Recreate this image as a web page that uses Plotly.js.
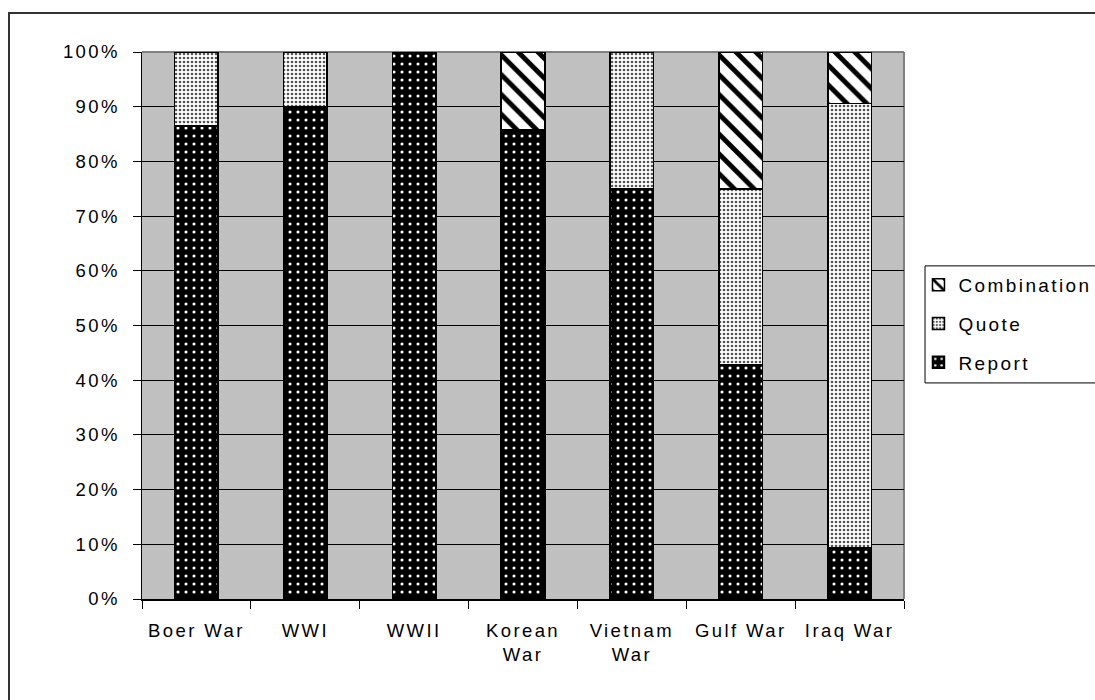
<!DOCTYPE html>
<html>
<head>
<meta charset="utf-8">
<script src="https://cdn.plot.ly/plotly-3.0.1.min.js"></script>
<style>
  html, body { margin: 0; padding: 0; background: #fff; overflow: hidden; }
  #wrap { position: relative; width: 1095px; height: 700px; overflow: hidden; }
  #chart { width: 1095px; height: 700px; }
  #frame { position: absolute; left: 8px; top: 12px; width: 1300px; height: 900px;
           border-left: 2px solid #333; border-top: 2px solid #333; pointer-events: none; }
  svg text { letter-spacing: 2.4px; }
</style>
</head>
<body>
<div id="wrap">
  <div id="chart"></div>
  <div id="frame"></div>
</div>
<script>
const categories = ["Boer War", "WWI", "WWII", "Korean<br>War", "Vietnam<br>War", "Gulf War", "Iraq War"];
const reportValues = [0.865, 0.90, 1.00, 0.857, 0.75, 0.429, 0.094];
const quoteValues = [0.135, 0.10, 0.00, 0.00, 0.25, 0.321, 0.812];
const combinationValues = [0.00, 0.00, 0.00, 0.143, 0.00, 0.25, 0.094];

const outline = {color: "#000", width: 1.5};
const traces = [
  {
    type: "bar", name: "Report", x: categories, y: reportValues, width: 0.4,
    legendgroup: "r", legendrank: 3,
    marker: {color: "#000", line: outline,
      pattern: {shape: ".", bgcolor: "#000", fgcolor: "#fff", size: 8, solidity: 0.12, fillmode: "replace"}}
  },
  {
    type: "bar", name: "Quote", x: categories, y: quoteValues, width: 0.4,
    legendgroup: "q", legendrank: 2,
    marker: {color: "#fff", line: outline,
      pattern: {shape: ".", bgcolor: "#fff", fgcolor: "#555", size: 4, solidity: 0.35, fillmode: "replace"}}
  },
  {
    type: "bar", name: "Combination", x: categories, y: combinationValues, width: 0.4,
    legendgroup: "c", legendrank: 1,
    marker: {color: "#fff", line: outline,
      pattern: {shape: "\\", bgcolor: "#fff", fgcolor: "#000", size: 14, solidity: 0.35, fillmode: "replace"}}
  }
];

const font = {family: "Liberation Sans, Arial, sans-serif", size: 18.5, color: "#000"};

const layout = {
  width: 1095, height: 700,
  margin: {l: 142, r: 191, t: 52, b: 101, autoexpand: false},
  paper_bgcolor: "rgba(0,0,0,0)",
  plot_bgcolor: "#c0c0c0",
  barmode: "stack",
  font: font,
  showlegend: true,
  legend: {
    x: 1.019, y: 0.609, xanchor: "left", yanchor: "top",
    bgcolor: "rgba(0,0,0,0)", borderwidth: 0,
    font: {family: "Liberation Sans, Arial, sans-serif", size: 19, color: "#000"},
    traceorder: "grouped", tracegroupgap: 11
  },
  xaxis: {
    type: "category",
    tickson: "boundaries",
    ticks: "outside", ticklen: 8, tickcolor: "#000", tickwidth: 1,
    showline: true, linecolor: "#000", linewidth: 1.5,
    showgrid: false, zeroline: false,
    tickfont: font,
    ticklabelstandoff: 14
  },
  yaxis: {
    range: [0, 1], dtick: 0.1, tickformat: ".0%",
    ticks: "outside", ticklen: 8, tickcolor: "#000", tickwidth: 1,
    showline: true, linecolor: "#000", linewidth: 1.5,
    showgrid: true, gridcolor: "#000", gridwidth: 1,
    zeroline: false,
    tickfont: font,
    ticklabelstandoff: 9
  },
  shapes: [
    {type: "line", xref: "paper", yref: "paper", x0: 0, x1: 1, y0: 1, y1: 1, line: {color: "#808080", width: 2}, layer: "below"},
    {type: "line", xref: "paper", yref: "paper", x0: 1, x1: 1, y0: 0, y1: 1, line: {color: "#808080", width: 2}, layer: "below"},
    {type: "rect", xref: "paper", yref: "paper", x0: 1.0276, x1: 1.30, y0: 0.395, y1: 0.609,
     fillcolor: "#fff", line: {color: "#000", width: 1}, layer: "below"}
  ]
};

Plotly.newPlot("chart", traces, layout, {displayModeBar: false, staticPlot: true});
</script>
</body>
</html>
